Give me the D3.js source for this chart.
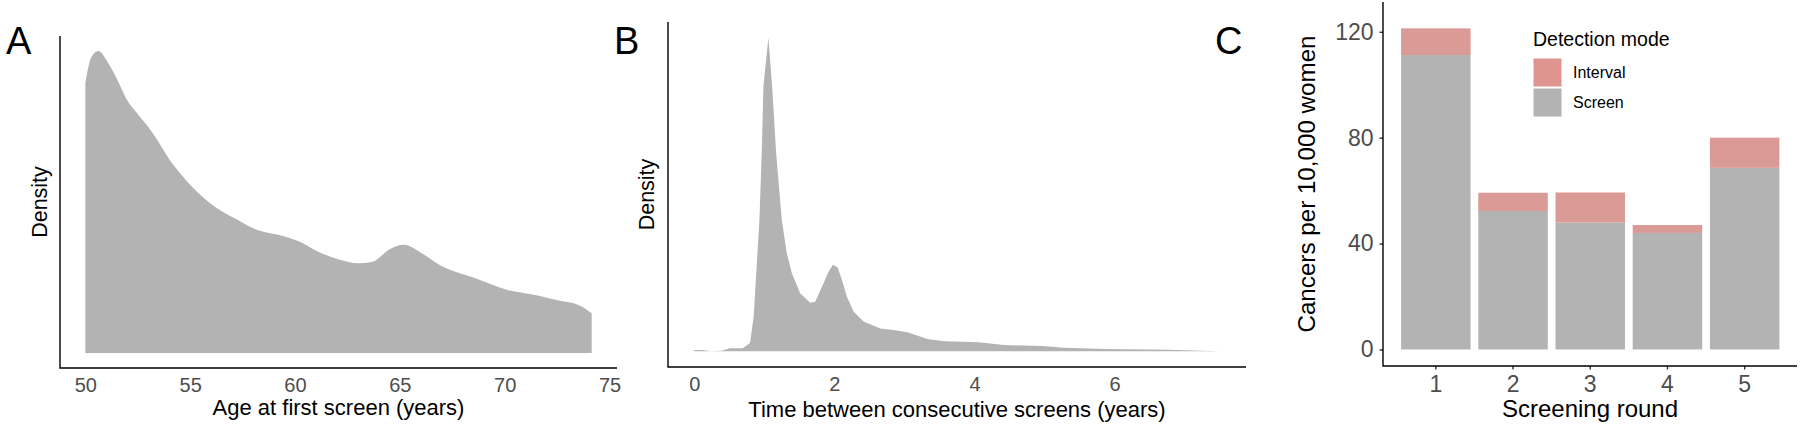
<!DOCTYPE html>
<html>
<head>
<meta charset="utf-8">
<script src="https://cdn.jsdelivr.net/npm/d3@7/dist/d3.min.js"></script>
<style>
    body { margin: 0; background: #fff; }
    text { font-family: "Liberation Sans", Arial, Helvetica, sans-serif; }
</style>
</head>
<body>
<div id="chart"></div>
<script>
// Panel A: density of age at first screen
const ageGrid = [50.0, 50.28, 50.62, 51.04, 51.6, 51.98, 52.5, 53.1, 54.25, 55.4, 56.3, 57.3, 58.2, 59.2, 60.2,
    61.1, 62.1, 63.0, 63.7, 64.5, 65.2, 66.0, 66.9, 68.6, 70.1, 71.4, 72.7, 73.3, 73.9, 74.15];
const ageDensity = [0.0832, 0.0910, 0.0930, 0.0899, 0.0832, 0.0780, 0.0736, 0.0688, 0.0575, 0.0492, 0.0445, 0.0409, 0.0379, 0.0364, 0.0343,
    0.0312, 0.0288, 0.0276, 0.0281, 0.0319, 0.0333, 0.0309, 0.0271, 0.0230, 0.0195, 0.0179, 0.0160, 0.0153, 0.0134, 0.0122];
const ageTicks = [50, 55, 60, 65, 70, 75];

// Panel B: density of time between consecutive screens
const gapGrid = [0.00, 0.12, 0.24, 0.39, 0.51, 0.69, 0.796, 0.848, 0.930, 0.963, 0.987, 1.058, 1.111, 1.168, 1.249,
    1.321, 1.393, 1.511, 1.654, 1.726, 1.845, 1.916, 1.979, 2.045, 2.107, 2.179, 2.273, 2.416, 2.655, 2.845,
    3.04, 3.34, 3.58, 4.06, 4.42, 4.97, 5.27, 5.87, 6.77, 7.50];
const gapDensity = [0.010, 0.010, 0.000, 0.005, 0.025, 0.025, 0.068, 0.289, 1.089, 1.646, 2.197, 2.600, 2.197, 1.646, 1.089,
    0.814, 0.647, 0.481, 0.403, 0.411, 0.564, 0.660, 0.718, 0.697, 0.593, 0.452, 0.330, 0.247, 0.190, 0.177,
    0.159, 0.101, 0.083, 0.075, 0.052, 0.044, 0.029, 0.020, 0.014, 0.000];
const gapTicks = [0, 2, 4, 6];

// Panel C: cancers per 10,000 women by screening round
const rounds = ["1", "2", "3", "4", "5"];
const screenDetected = [111.2, 52.3, 47.9, 44.0, 68.6];
const intervalDetected = [10.1, 6.9, 11.4, 3.0, 11.4];
const modes = ["Interval", "Screen"];
const rateTicks = [0, 40, 80, 120];

const width = 1800, height = 427;
const grey = "#b3b3b3";
const tickGrey = "#4d4d4d";
const modeColor = { Interval: "#da9b97", Screen: grey };
const legendColor = { Interval: "#e0948f", Screen: grey };

const svg = d3.select("#chart")
    .append("svg")
    .attr("width", width)
    .attr("height", height);

// panel boxes (pixel extents of the axis lines)
const pA = { left: 60, right: 617, top: 36, bottom: 368 };
const pB = { left: 668, right: 1246, top: 22, bottom: 367 };
const pC = { left: 1383, right: 1797, top: 2, bottom: 366 };

const axisLines = (g, p) => {
    g.append("path")
        .attr("d", `M${p.left},${p.top}V${p.bottom}H${p.right}`)
        .attr("fill", "none")
        .attr("stroke", "#000")
        .attr("stroke-width", 1.4);
}

const panelLetter = (x, label) => {
    svg.append("text")
        .attr("x", x)
        .attr("y", 53.5)
        .attr("font-size", 38)
        .attr("fill", "#000")
        .text(label);
}

const yTitle = (x, y, size, label) => {
    svg.append("text")
        .attr("transform", `translate(${x},${y}) rotate(-90)`)
        .attr("text-anchor", "middle")
        .attr("font-size", size)
        .attr("fill", "#000")
        .text(label);
}

const xTitle = (x, y, size, label) => {
    svg.append("text")
        .attr("x", x)
        .attr("y", y)
        .attr("text-anchor", "middle")
        .attr("font-size", size)
        .attr("fill", "#000")
        .text(label);
}

const styleAxis = (g, size) => {
    g.select(".domain").remove();
    g.selectAll("text")
        .attr("fill", tickGrey)
        .attr("font-size", size)
        .attr("font-family", "'Liberation Sans', Arial, Helvetica, sans-serif");
    g.selectAll("line").attr("stroke", "#333").attr("stroke-width", 1.4);
}

// expanded continuous domain, like ggplot's default 5% padding
const expand = (lo, hi) => [lo - 0.05 * (hi - lo), hi + 0.05 * (hi - lo)];

// ---------- density panels (A, B) ----------
const densityPanel = (p, grid, dens, ticks, curve) => {
    const data = grid.map((x, i) => ({ x: x, y: dens[i] }));
    const x = d3.scaleLinear()
        .domain(expand(d3.min(grid), d3.max(grid)))
        .range([p.left, p.right]);
    const y = d3.scaleLinear()
        .domain(expand(0, d3.max(dens)))
        .range([p.bottom, p.top]);

    const g = svg.append("g");
    g.append("path")
        .datum(data)
        .attr("fill", grey)
        .attr("d", d3.area()
            .curve(curve)
            .x(d => x(d.x))
            .y0(y(0))
            .y1(d => y(d.y)));

    const ax = g.append("g")
        .attr("transform", `translate(0,${p.bottom})`)
        .call(d3.axisBottom(x).tickValues(ticks).tickSize(0).tickPadding(10));
    styleAxis(ax, 20);
    axisLines(g, p);
}

densityPanel(pA, ageGrid, ageDensity, ageTicks, d3.curveMonotoneX);
panelLetter(6, "A");
yTitle(47, (pA.top + pA.bottom) / 2, 21.5, "Density");
xTitle((pA.left + pA.right) / 2, 415, 22, "Age at first screen (years)");

densityPanel(pB, gapGrid, gapDensity, gapTicks, d3.curveLinear);
panelLetter(614, "B");
yTitle(654, (pB.top + pB.bottom) / 2, 21.5, "Density");
xTitle((pB.left + pB.right) / 2, 416.5, 22, "Time between consecutive screens (years)");

// ---------- Panel C ----------
const stacked = rounds.map((r, i) => ({
    round: r,
    Screen: screenDetected[i],
    Interval: intervalDetected[i]
}));
const series = d3.stack().keys(["Screen", "Interval"])(stacked);

const xC = d3.scaleBand()
    .domain(rounds)
    .range([pC.left + 6.5, pC.right - 6])
    .paddingInner(0.1)
    .paddingOuter(0.15);
const yC = d3.scaleLinear()
    .domain(expand(0, 125))
    .range([pC.bottom, pC.top]);

const gC = svg.append("g");
gC.selectAll("g.series")
    .data(series)
    .enter()
    .append("g")
    .attr("class", "series")
    .attr("fill", d => modeColor[d.key])
    .selectAll("rect")
    .data(d => d)
    .enter()
    .append("rect")
    .attr("x", d => xC(d.data.round))
    .attr("width", xC.bandwidth())
    .attr("y", d => yC(d[1]))
    .attr("height", d => yC(d[0]) - yC(d[1]));

const axCx = gC.append("g")
    .attr("transform", `translate(0,${pC.bottom})`)
    .call(d3.axisBottom(xC).tickSize(3.5).tickPadding(6));
styleAxis(axCx, 23);

const axCy = gC.append("g")
    .attr("transform", `translate(${pC.left},0)`)
    .call(d3.axisLeft(yC).tickValues(rateTicks).tickSize(3.5).tickPadding(6));
styleAxis(axCy, 23);

axisLines(gC, pC);

panelLetter(1215, "C");
yTitle(1315, (pC.top + pC.bottom) / 2, 24.2, "Cancers per 10,000 women");
xTitle((pC.left + pC.right) / 2, 416.5, 24, "Screening round");

// legend
const legend = svg.append("g").attr("transform", "translate(1533,0)");
legend.append("text")
    .attr("x", 0)
    .attr("y", 45.5)
    .attr("font-size", 19.5)
    .attr("fill", "#000")
    .text("Detection mode");

const keys = legend.selectAll("g.key")
    .data(modes)
    .enter()
    .append("g")
    .attr("class", "key")
    .attr("transform", (d, i) => `translate(0,${58 + i * 30})`);

keys.append("rect")
    .attr("width", 29)
    .attr("height", 29)
    .attr("fill", d => legendColor[d])
    .attr("stroke", "#fff")
    .attr("stroke-width", 1);

keys.append("text")
    .attr("x", 40)
    .attr("y", 14.5)
    .attr("dy", "0.35em")
    .attr("font-size", 16)
    .attr("fill", "#000")
    .text(d => d);
</script>
</body>
</html>
